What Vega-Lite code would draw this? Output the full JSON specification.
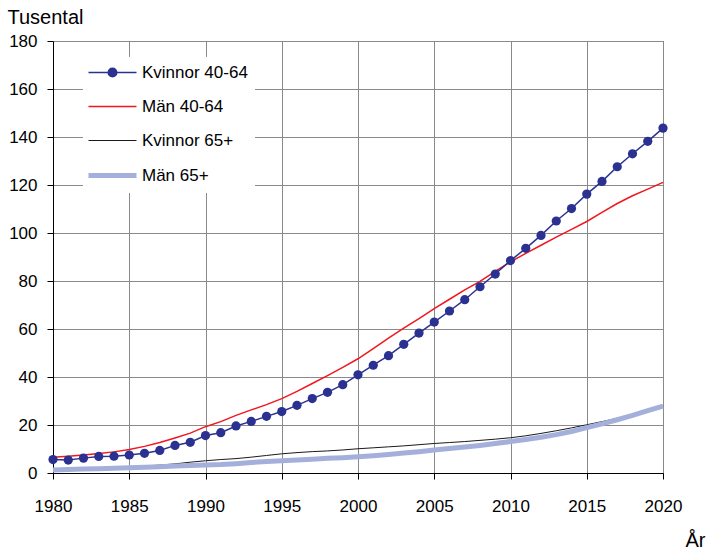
{
  "$schema": "https://vega.github.io/schema/vega-lite/v6.json",
  "width": 610,
  "height": 432,
  "autosize": {"type": "none"},
  "padding": {"left": 53, "top": 41, "right": 46, "bottom": 77},
  "background": "white",
  "config": {
    "view": {"stroke": "#333333", "strokeWidth": 1},
    "font": "Liberation Sans",
    "axis": {
      "labelFont": "Liberation Sans",
      "labelFontSize": 17,
      "labelColor": "#000000",
      "titleFont": "Liberation Sans",
      "titleFontSize": 20,
      "titleFontWeight": "normal",
      "titleColor": "#000000",
      "domainColor": "#000000",
      "domainWidth": 1,
      "tickColor": "#000000",
      "tickWidth": 1,
      "tickSize": 6,
      "gridColor": "#8a8a8a",
      "gridWidth": 1,
      "gridOpacity": 1
    },
    "legend": {
      "labelFont": "Liberation Sans",
      "labelFontSize": 17,
      "labelColor": "#000000",
      "labelLimit": 300
    }
  },
  "data": {
    "values": [
      {"series": "Kvinnor 65+", "year": 1980, "value": 1.4},
      {"series": "Kvinnor 65+", "year": 1981, "value": 1.6},
      {"series": "Kvinnor 65+", "year": 1982, "value": 1.8},
      {"series": "Kvinnor 65+", "year": 1983, "value": 2.0},
      {"series": "Kvinnor 65+", "year": 1984, "value": 2.2},
      {"series": "Kvinnor 65+", "year": 1985, "value": 2.5},
      {"series": "Kvinnor 65+", "year": 1986, "value": 2.9},
      {"series": "Kvinnor 65+", "year": 1987, "value": 3.3},
      {"series": "Kvinnor 65+", "year": 1988, "value": 3.8},
      {"series": "Kvinnor 65+", "year": 1989, "value": 4.5},
      {"series": "Kvinnor 65+", "year": 1990, "value": 5.1},
      {"series": "Kvinnor 65+", "year": 1991, "value": 5.6},
      {"series": "Kvinnor 65+", "year": 1992, "value": 6.0},
      {"series": "Kvinnor 65+", "year": 1993, "value": 6.6},
      {"series": "Kvinnor 65+", "year": 1994, "value": 7.3},
      {"series": "Kvinnor 65+", "year": 1995, "value": 8.0},
      {"series": "Kvinnor 65+", "year": 1996, "value": 8.5},
      {"series": "Kvinnor 65+", "year": 1997, "value": 8.9},
      {"series": "Kvinnor 65+", "year": 1998, "value": 9.2},
      {"series": "Kvinnor 65+", "year": 1999, "value": 9.6},
      {"series": "Kvinnor 65+", "year": 2000, "value": 10.1},
      {"series": "Kvinnor 65+", "year": 2001, "value": 10.5},
      {"series": "Kvinnor 65+", "year": 2002, "value": 10.9},
      {"series": "Kvinnor 65+", "year": 2003, "value": 11.3},
      {"series": "Kvinnor 65+", "year": 2004, "value": 11.8},
      {"series": "Kvinnor 65+", "year": 2005, "value": 12.3},
      {"series": "Kvinnor 65+", "year": 2006, "value": 12.7},
      {"series": "Kvinnor 65+", "year": 2007, "value": 13.1},
      {"series": "Kvinnor 65+", "year": 2008, "value": 13.6},
      {"series": "Kvinnor 65+", "year": 2009, "value": 14.1},
      {"series": "Kvinnor 65+", "year": 2010, "value": 14.7},
      {"series": "Kvinnor 65+", "year": 2011, "value": 15.5},
      {"series": "Kvinnor 65+", "year": 2012, "value": 16.5},
      {"series": "Kvinnor 65+", "year": 2013, "value": 17.6},
      {"series": "Kvinnor 65+", "year": 2014, "value": 18.8},
      {"series": "Kvinnor 65+", "year": 2015, "value": 20.1},
      {"series": "Kvinnor 65+", "year": 2016, "value": 21.4},
      {"series": "Kvinnor 65+", "year": 2017, "value": 22.8},
      {"series": "Kvinnor 65+", "year": 2018, "value": 24.4},
      {"series": "Kvinnor 65+", "year": 2019, "value": 26.1},
      {"series": "Kvinnor 65+", "year": 2020, "value": 27.9},
      {"series": "Män 65+", "year": 1980, "value": 1.2},
      {"series": "Män 65+", "year": 1981, "value": 1.5},
      {"series": "Män 65+", "year": 1982, "value": 1.7},
      {"series": "Män 65+", "year": 1983, "value": 1.8},
      {"series": "Män 65+", "year": 1984, "value": 2.0},
      {"series": "Män 65+", "year": 1985, "value": 2.2},
      {"series": "Män 65+", "year": 1986, "value": 2.4},
      {"series": "Män 65+", "year": 1987, "value": 2.6},
      {"series": "Män 65+", "year": 1988, "value": 2.9},
      {"series": "Män 65+", "year": 1989, "value": 3.1},
      {"series": "Män 65+", "year": 1990, "value": 3.3},
      {"series": "Män 65+", "year": 1991, "value": 3.5},
      {"series": "Män 65+", "year": 1992, "value": 3.9},
      {"series": "Män 65+", "year": 1993, "value": 4.4},
      {"series": "Män 65+", "year": 1994, "value": 4.8},
      {"series": "Män 65+", "year": 1995, "value": 5.1},
      {"series": "Män 65+", "year": 1996, "value": 5.4},
      {"series": "Män 65+", "year": 1997, "value": 5.7},
      {"series": "Män 65+", "year": 1998, "value": 6.1},
      {"series": "Män 65+", "year": 1999, "value": 6.4},
      {"series": "Män 65+", "year": 2000, "value": 6.8},
      {"series": "Män 65+", "year": 2001, "value": 7.2},
      {"series": "Män 65+", "year": 2002, "value": 7.7},
      {"series": "Män 65+", "year": 2003, "value": 8.3},
      {"series": "Män 65+", "year": 2004, "value": 8.9},
      {"series": "Män 65+", "year": 2005, "value": 9.6},
      {"series": "Män 65+", "year": 2006, "value": 10.2},
      {"series": "Män 65+", "year": 2007, "value": 10.8},
      {"series": "Män 65+", "year": 2008, "value": 11.5},
      {"series": "Män 65+", "year": 2009, "value": 12.3},
      {"series": "Män 65+", "year": 2010, "value": 13.1},
      {"series": "Män 65+", "year": 2011, "value": 14.0},
      {"series": "Män 65+", "year": 2012, "value": 14.9},
      {"series": "Män 65+", "year": 2013, "value": 16.0},
      {"series": "Män 65+", "year": 2014, "value": 17.3},
      {"series": "Män 65+", "year": 2015, "value": 18.9},
      {"series": "Män 65+", "year": 2016, "value": 20.5},
      {"series": "Män 65+", "year": 2017, "value": 22.2},
      {"series": "Män 65+", "year": 2018, "value": 24.0},
      {"series": "Män 65+", "year": 2019, "value": 26.0},
      {"series": "Män 65+", "year": 2020, "value": 27.9},
      {"series": "Män 40-64", "year": 1980, "value": 6.6},
      {"series": "Män 40-64", "year": 1981, "value": 7.0},
      {"series": "Män 40-64", "year": 1982, "value": 7.5},
      {"series": "Män 40-64", "year": 1983, "value": 8.1},
      {"series": "Män 40-64", "year": 1984, "value": 8.8},
      {"series": "Män 40-64", "year": 1985, "value": 9.8},
      {"series": "Män 40-64", "year": 1986, "value": 11.1},
      {"series": "Män 40-64", "year": 1987, "value": 12.7},
      {"series": "Män 40-64", "year": 1988, "value": 14.6},
      {"series": "Män 40-64", "year": 1989, "value": 16.6},
      {"series": "Män 40-64", "year": 1990, "value": 19.3},
      {"series": "Män 40-64", "year": 1991, "value": 21.4},
      {"series": "Män 40-64", "year": 1992, "value": 24.0},
      {"series": "Män 40-64", "year": 1993, "value": 26.3},
      {"series": "Män 40-64", "year": 1994, "value": 28.5},
      {"series": "Män 40-64", "year": 1995, "value": 31.0},
      {"series": "Män 40-64", "year": 1996, "value": 34.0},
      {"series": "Män 40-64", "year": 1997, "value": 37.3},
      {"series": "Män 40-64", "year": 1998, "value": 40.6},
      {"series": "Män 40-64", "year": 1999, "value": 44.0},
      {"series": "Män 40-64", "year": 2000, "value": 47.6},
      {"series": "Män 40-64", "year": 2001, "value": 51.8},
      {"series": "Män 40-64", "year": 2002, "value": 56.2},
      {"series": "Män 40-64", "year": 2003, "value": 60.4},
      {"series": "Män 40-64", "year": 2004, "value": 64.3},
      {"series": "Män 40-64", "year": 2005, "value": 68.5},
      {"series": "Män 40-64", "year": 2006, "value": 72.4},
      {"series": "Män 40-64", "year": 2007, "value": 76.3},
      {"series": "Män 40-64", "year": 2008, "value": 79.8},
      {"series": "Män 40-64", "year": 2009, "value": 84.0},
      {"series": "Män 40-64", "year": 2010, "value": 88.0},
      {"series": "Män 40-64", "year": 2011, "value": 91.5},
      {"series": "Män 40-64", "year": 2012, "value": 94.9},
      {"series": "Män 40-64", "year": 2013, "value": 98.3},
      {"series": "Män 40-64", "year": 2014, "value": 101.5},
      {"series": "Män 40-64", "year": 2015, "value": 104.8},
      {"series": "Män 40-64", "year": 2016, "value": 108.6},
      {"series": "Män 40-64", "year": 2017, "value": 112.3},
      {"series": "Män 40-64", "year": 2018, "value": 115.5},
      {"series": "Män 40-64", "year": 2019, "value": 118.3},
      {"series": "Män 40-64", "year": 2020, "value": 121.1},
      {"series": "Kvinnor 40-64", "year": 1980, "value": 5.6},
      {"series": "Kvinnor 40-64", "year": 1981, "value": 5.4},
      {"series": "Kvinnor 40-64", "year": 1982, "value": 6.2},
      {"series": "Kvinnor 40-64", "year": 1983, "value": 6.9},
      {"series": "Kvinnor 40-64", "year": 1984, "value": 7.0},
      {"series": "Kvinnor 40-64", "year": 1985, "value": 7.5},
      {"series": "Kvinnor 40-64", "year": 1986, "value": 8.2},
      {"series": "Kvinnor 40-64", "year": 1987, "value": 9.4},
      {"series": "Kvinnor 40-64", "year": 1988, "value": 11.5},
      {"series": "Kvinnor 40-64", "year": 1989, "value": 12.8},
      {"series": "Kvinnor 40-64", "year": 1990, "value": 15.6},
      {"series": "Kvinnor 40-64", "year": 1991, "value": 16.8},
      {"series": "Kvinnor 40-64", "year": 1992, "value": 19.6},
      {"series": "Kvinnor 40-64", "year": 1993, "value": 21.5},
      {"series": "Kvinnor 40-64", "year": 1994, "value": 23.6},
      {"series": "Kvinnor 40-64", "year": 1995, "value": 25.6},
      {"series": "Kvinnor 40-64", "year": 1996, "value": 28.2},
      {"series": "Kvinnor 40-64", "year": 1997, "value": 31.0},
      {"series": "Kvinnor 40-64", "year": 1998, "value": 33.6},
      {"series": "Kvinnor 40-64", "year": 1999, "value": 36.8},
      {"series": "Kvinnor 40-64", "year": 2000, "value": 40.9},
      {"series": "Kvinnor 40-64", "year": 2001, "value": 44.9},
      {"series": "Kvinnor 40-64", "year": 2002, "value": 48.9},
      {"series": "Kvinnor 40-64", "year": 2003, "value": 53.6},
      {"series": "Kvinnor 40-64", "year": 2004, "value": 58.3},
      {"series": "Kvinnor 40-64", "year": 2005, "value": 62.9},
      {"series": "Kvinnor 40-64", "year": 2006, "value": 67.5},
      {"series": "Kvinnor 40-64", "year": 2007, "value": 72.2},
      {"series": "Kvinnor 40-64", "year": 2008, "value": 77.6},
      {"series": "Kvinnor 40-64", "year": 2009, "value": 82.9},
      {"series": "Kvinnor 40-64", "year": 2010, "value": 88.5},
      {"series": "Kvinnor 40-64", "year": 2011, "value": 93.6},
      {"series": "Kvinnor 40-64", "year": 2012, "value": 99.0},
      {"series": "Kvinnor 40-64", "year": 2013, "value": 105.0},
      {"series": "Kvinnor 40-64", "year": 2014, "value": 110.2},
      {"series": "Kvinnor 40-64", "year": 2015, "value": 116.2},
      {"series": "Kvinnor 40-64", "year": 2016, "value": 121.5},
      {"series": "Kvinnor 40-64", "year": 2017, "value": 127.6},
      {"series": "Kvinnor 40-64", "year": 2018, "value": 133.0},
      {"series": "Kvinnor 40-64", "year": 2019, "value": 138.2},
      {"series": "Kvinnor 40-64", "year": 2020, "value": 143.7}
    ]
  },
  "encoding": {
    "x": {
      "field": "year",
      "type": "quantitative",
      "scale": {"domain": [1980, 2020], "nice": false, "zero": false},
      "axis": {
        "values": [1980, 1985, 1990, 1995, 2000, 2005, 2010, 2015, 2020],
        "format": "d",
        "title": "År",
        "titleAnchor": "start",
        "titleAlign": "left",
        "titleBaseline": "alphabetic",
        "titleX": 632,
        "titleY": 73,
        "labelBaseline": "alphabetic",
        "labelPadding": 32,
        "labelFlush": false,
        "labelOverlap": false
      }
    },
    "y": {
      "field": "value",
      "type": "quantitative",
      "scale": {"domain": [0, 180], "nice": false},
      "axis": {
        "values": [0, 20, 40, 60, 80, 100, 120, 140, 160, 180],
        "title": "Tusental",
        "titleAngle": 0,
        "titleAnchor": "start",
        "titleAlign": "left",
        "titleBaseline": "alphabetic",
        "titleX": -46,
        "titleY": -18,
        "labelPadding": 10,
        "labelBaseline": "middle",
        "labelFlush": false,
        "labelOverlap": false
      }
    },
    "color": {
      "field": "series",
      "type": "nominal",
      "scale": {
        "domain": ["Kvinnor 40-64", "Män 40-64", "Kvinnor 65+", "Män 65+"],
        "range": ["#2B3191", "#F2161E", "#1a1a1a", "#A4B0DB"]
      },
      "legend": {
        "title": null,
        "orient": "none",
        "legendX": 30,
        "legendY": 16,
        "fillColor": "white",
        "strokeColor": null,
        "padding": 7,
        "symbolSize": 400,
        "symbolOffset": 14,
        "labelOffset": 21,
        "rowPadding": 16,
        "encode": {
          "symbols": {
            "update": {
              "shape": {"signal": "datum.value === 'Kvinnor 40-64' ? 'M-2.4,0H2.4M-0.43,0A0.43,0.43,0,1,1,0.43,0A0.43,0.43,0,1,1,-0.43,0Z' : 'M-2.4,0H2.4'"},
              "fill": {"signal": "datum.value === 'Kvinnor 40-64' ? '#2B3191' : 'transparent'"},
              "strokeWidth": {"signal": "datum.value === 'Män 65+' ? 5 : (datum.value === 'Kvinnor 65+' ? 1 : 1.5)"},
              "opacity": {"value": 1}
            }
          }
        }
      }
    }
  },
  "layer": [
    {
      "transform": [{"filter": "datum.series === 'Kvinnor 65+'"}],
      "mark": {"type": "line", "strokeWidth": 1}
    },
    {
      "transform": [{"filter": "datum.series === 'Män 65+'"}],
      "mark": {"type": "line", "strokeWidth": 5, "strokeCap": "butt", "strokeJoin": "round"}
    },
    {
      "transform": [{"filter": "datum.series === 'Män 40-64'"}],
      "mark": {"type": "line", "strokeWidth": 1.5}
    },
    {
      "transform": [{"filter": "datum.series === 'Kvinnor 40-64'"}],
      "mark": {"type": "line", "strokeWidth": 1.5}
    },
    {
      "transform": [{"filter": "datum.series === 'Kvinnor 40-64'"}],
      "mark": {"type": "point", "filled": true, "shape": "circle", "size": 85, "opacity": 1}
    }
  ]
}
